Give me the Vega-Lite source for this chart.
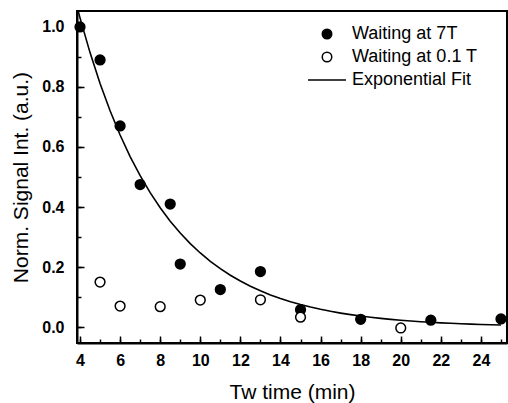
{
  "$schema": "https://vega.github.io/schema/vega-lite/v6.json",
  "width": 430,
  "height": 332,
  "autosize": {"type": "none"},
  "padding": {"left": 77, "top": 11, "right": 1, "bottom": 60},
  "background": "white",
  "config": {
    "font": "Liberation Sans",
    "view": {"stroke": "black", "strokeWidth": 2},
    "axis": {
      "grid": false,
      "domainColor": "black",
      "domainWidth": 2,
      "tickColor": "black",
      "tickWidth": 1.5,
      "labelColor": "black",
      "labelFont": "Liberation Sans",
      "labelFontWeight": "bold",
      "labelFontSize": 16,
      "titleColor": "black",
      "titleFont": "Liberation Sans",
      "titleFontWeight": "normal",
      "titleFontSize": 21
    }
  },
  "datasets": {
    "dots": [
      {"t": 4, "s": 1.0, "series": "Waiting at 7T"},
      {"t": 5, "s": 0.89, "series": "Waiting at 7T"},
      {"t": 6, "s": 0.67, "series": "Waiting at 7T"},
      {"t": 7, "s": 0.475, "series": "Waiting at 7T"},
      {"t": 8.5, "s": 0.41, "series": "Waiting at 7T"},
      {"t": 9, "s": 0.21, "series": "Waiting at 7T"},
      {"t": 11, "s": 0.125, "series": "Waiting at 7T"},
      {"t": 13, "s": 0.185, "series": "Waiting at 7T"},
      {"t": 15, "s": 0.058, "series": "Waiting at 7T"},
      {"t": 18, "s": 0.026, "series": "Waiting at 7T"},
      {"t": 21.5, "s": 0.023, "series": "Waiting at 7T"},
      {"t": 25, "s": 0.027, "series": "Waiting at 7T"},
      {"t": 5, "s": 0.15, "series": "Waiting at 0.1 T"},
      {"t": 6, "s": 0.07, "series": "Waiting at 0.1 T"},
      {"t": 8, "s": 0.068, "series": "Waiting at 0.1 T"},
      {"t": 10, "s": 0.09, "series": "Waiting at 0.1 T"},
      {"t": 13, "s": 0.091, "series": "Waiting at 0.1 T"},
      {"t": 15, "s": 0.033, "series": "Waiting at 0.1 T"},
      {"t": 20, "s": -0.003, "series": "Waiting at 0.1 T"}
    ],
    "fit": [
      {"t": 3.9, "s": 1.055},
      {"t": 4, "s": 1.03},
      {"t": 4.5, "s": 0.9144},
      {"t": 5, "s": 0.8118},
      {"t": 5.5, "s": 0.7207},
      {"t": 6, "s": 0.6398},
      {"t": 6.5, "s": 0.568},
      {"t": 7, "s": 0.5043},
      {"t": 7.5, "s": 0.4477},
      {"t": 8, "s": 0.3974},
      {"t": 8.5, "s": 0.3528},
      {"t": 9, "s": 0.3132},
      {"t": 9.5, "s": 0.2781},
      {"t": 10, "s": 0.2469},
      {"t": 10.5, "s": 0.2192},
      {"t": 11, "s": 0.1946},
      {"t": 11.5, "s": 0.1728},
      {"t": 12, "s": 0.1534},
      {"t": 12.5, "s": 0.1362},
      {"t": 13, "s": 0.1209},
      {"t": 13.5, "s": 0.1073},
      {"t": 14, "s": 0.0953},
      {"t": 14.5, "s": 0.0846},
      {"t": 15, "s": 0.0751},
      {"t": 15.5, "s": 0.0667},
      {"t": 16, "s": 0.0592},
      {"t": 16.5, "s": 0.0525},
      {"t": 17, "s": 0.0466},
      {"t": 17.5, "s": 0.0414},
      {"t": 18, "s": 0.0368},
      {"t": 18.5, "s": 0.0326},
      {"t": 19, "s": 0.029},
      {"t": 19.5, "s": 0.0257},
      {"t": 20, "s": 0.0228},
      {"t": 20.5, "s": 0.0203},
      {"t": 21, "s": 0.018},
      {"t": 21.5, "s": 0.016},
      {"t": 22, "s": 0.0142},
      {"t": 22.5, "s": 0.0126},
      {"t": 23, "s": 0.0112},
      {"t": 23.5, "s": 0.0099},
      {"t": 24, "s": 0.0088},
      {"t": 24.5, "s": 0.0078},
      {"t": 25, "s": 0.007}
    ]
  },
  "layer": [
    {
      "data": {"name": "fit"},
      "mark": {"type": "line", "color": "black", "strokeWidth": 1.6, "clip": true},
      "encoding": {
        "x": {
          "field": "t", "type": "quantitative",
          "scale": {"domain": [3.85, 25.3], "nice": false, "zero": false},
          "axis": {"orient": "bottom", "values": [4,5,6,7,8,9,10,11,12,13,14,15,16,17,18,19,20,21,22,23,24,25], "labels": false, "tickSize": -4, "domain": false, "title": null}
        },
        "y": {
          "field": "s", "type": "quantitative",
          "scale": {"domain": [-0.053, 1.053], "nice": false, "zero": false},
          "axis": {"orient": "left", "values": [0,0.1,0.2,0.3,0.4,0.5,0.6,0.7,0.8,0.9,1.0], "labels": false, "tickSize": -4, "domain": false, "title": null}
        }
      }
    },
    {
      "data": {"name": "dots"},
      "mark": {"type": "point", "filled": true, "strokeWidth": 1.5, "opacity": 1, "size": 95},
      "encoding": {
        "x": {
          "field": "t", "type": "quantitative",
          "axis": {"orient": "bottom", "values": [4,6,8,10,12,14,16,18,20,22,24], "tickSize": -7, "labelPadding": 16, "title": "Tw time (min)", "titlePadding": 13}
        },
        "y": {
          "field": "s", "type": "quantitative",
          "axis": {"orient": "left", "values": [0,0.2,0.4,0.6,0.8,1.0], "format": ".1f", "tickSize": -7, "labelPadding": 20, "title": "Norm. Signal Int. (a.u.)", "titlePadding": 10}
        },
        "shape": {
          "field": "series", "type": "nominal",
          "scale": {"domain": ["Waiting at 7T", "Waiting at 0.1 T", "Exponential Fit"], "range": ["circle", "circle", "M-4,0H4"]},
          "legend": {
            "title": null, "orient": "none", "legendX": 241, "legendY": 14,
            "labelFontSize": 18, "labelFont": "Liberation Sans", "labelColor": "black",
            "symbolSize": 90, "symbolStrokeWidth": 1.5, "symbolOpacity": 1,
            "rowPadding": 5, "labelOffset": 16
          }
        },
        "fill": {
          "field": "series", "type": "nominal",
          "scale": {"domain": ["Waiting at 7T", "Waiting at 0.1 T", "Exponential Fit"], "range": ["black", "white", "transparent"]}
        },
        "stroke": {
          "field": "series", "type": "nominal",
          "scale": {"domain": ["Waiting at 7T", "Waiting at 0.1 T", "Exponential Fit"], "range": ["black", "black", "black"]}
        }
      }
    }
  ],
  "resolve": {"axis": {"x": "independent", "y": "independent"}}
}
